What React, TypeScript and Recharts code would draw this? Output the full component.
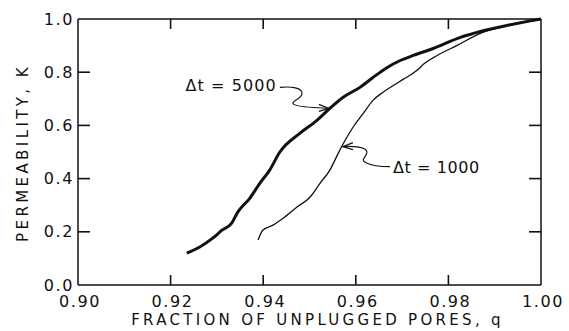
import React from "react";
import { LineChart, Line, XAxis, YAxis, ReferenceDot, Label } from "recharts";

// axis ticks
const qTicks = [0.9, 0.92, 0.94, 0.96, 0.98, 1.0];
const kTicks = [0, 0.2, 0.4, 0.6, 0.8, 1.0];
const innerQTicks = [0.92, 0.94, 0.96, 0.98];
const innerKTicks = [0.2, 0.4, 0.6, 0.8];

// Δt = 5000 (thick curve)
const q5000 = [
  0.9235, 0.9263, 0.9291, 0.9311, 0.9332, 0.9345, 0.9371, 0.9393, 0.9414,
  0.9436, 0.9479, 0.9516, 0.9544, 0.9572, 0.9609, 0.9637, 0.9668, 0.9696,
  0.9724, 0.9767, 0.9826, 0.9869, 0.9927, 1.0,
];
const k5000 = [
  0.12, 0.143, 0.176, 0.206, 0.233, 0.274, 0.326, 0.383, 0.432, 0.5, 0.57,
  0.619, 0.664, 0.705, 0.743, 0.78, 0.818, 0.844, 0.863, 0.889, 0.931, 0.953,
  0.976, 1.0,
];

// Δt = 1000 (thin curve)
const q1000 = [
  0.9389, 0.9399, 0.9421, 0.9443, 0.9473, 0.9501, 0.9523, 0.9544, 0.9562,
  0.9577, 0.9594, 0.9616, 0.9637, 0.9659, 0.9681, 0.9702, 0.9733, 0.9746,
  0.9776, 0.9819, 0.9869, 0.9927, 1.0,
];
const k1000 = [
  0.169, 0.206, 0.225, 0.251, 0.293, 0.33, 0.383, 0.432, 0.495, 0.544, 0.593,
  0.645, 0.694, 0.725, 0.75, 0.773, 0.808, 0.83, 0.863, 0.901, 0.946, 0.976,
  1.0,
];

// where the annotation arrows touch the curves
const arrow5000 = { q: 0.9544, k: 0.664 };
const arrow1000 = { q: 0.957, k: 0.52 };

const series5000 = q5000.map((q, i) => ({ q, k: k5000[i] }));
const series1000 = q1000.map((q, i) => ({ q, k: k1000[i] }));

const W = 569;
const H = 331;
const margin = { top: 18, right: 27, bottom: 0, left: 0 };
const Y_AXIS_W = 78;
const X_AXIS_H = 46;
const PLOT_LEFT = margin.left + Y_AXIS_W;
const PLOT_RIGHT = W - margin.right - 1;
const PLOT_TOP = margin.top + 1;
const PLOT_BOTTOM = H - margin.bottom - X_AXIS_H;

const FONT = "'DejaVu Sans', sans-serif";
const INK = "#111";
const textStyle = { fontFamily: FONT, fontSize: 16, letterSpacing: 1.6 };

const BottomTick = (props: any) => {
  const { x, payload } = props;
  return (
    <text x={x + 2} y={PLOT_BOTTOM + 22} textAnchor="middle" fill={INK} style={textStyle}>
      {payload.value.toFixed(2)}
    </text>
  );
};

const LeftTick = (props: any) => {
  const { y, payload } = props;
  return (
    <text
      x={PLOT_LEFT - 4}
      y={y}
      textAnchor="end"
      dominantBaseline="central"
      fill={INK}
      style={textStyle}
    >
      {payload.value.toFixed(1)}
    </text>
  );
};

// inward tick marks, placed at data positions on the frame via ReferenceDot
const tickMark = (dx: number, dy: number) => (props: any) => {
  const { cx, cy } = props;
  return (
    <path d={`M ${cx} ${cy} L ${cx + dx} ${cy + dy}`} fill="none" stroke={INK} strokeWidth={1.6} />
  );
};
const UpTick = tickMark(0, -10);
const DownTick = tickMark(0, 10);
const RightwardTick = tickMark(12, 0);
const LeftwardTick = tickMark(-12, 0);

const Note5000 = (props: any) => {
  const { cx, cy } = props;
  return (
    <g transform={`translate(${cx},${cy})`}>
      <path
        d="M -50 -21 C -40 -22, -26 -21, -28 -14 C -29 -9, -40 -7, -36 -4 C -32 -1, -14 -1, -1 0"
        fill="none"
        stroke={INK}
        strokeWidth={1.2}
      />
      <path d="M -11 -4 L -1 0 L -11 3" fill="none" stroke={INK} strokeWidth={1.2} />
      <text
        x={-53}
        y={-23}
        textAnchor="end"
        dominantBaseline="central"
        fill={INK}
        style={{ fontFamily: FONT, fontSize: 16, letterSpacing: 1.1 }}
      >
        Δt = 5000
      </text>
    </g>
  );
};

const Note1000 = (props: any) => {
  const { cx, cy } = props;
  return (
    <g transform={`translate(${cx},${cy})`}>
      <path
        d="M 1 0 C 10 -1, 26 0, 25 6 C 24 11, 18 13, 24 16 C 30 19, 40 20, 48 20"
        fill="none"
        stroke={INK}
        strokeWidth={1.2}
      />
      <path d="M 11 -4 L 1 0 L 11 3" fill="none" stroke={INK} strokeWidth={1.2} />
      <text
        x={51}
        y={21}
        textAnchor="start"
        dominantBaseline="central"
        fill={INK}
        style={{ fontFamily: FONT, fontSize: 16, letterSpacing: 0.6 }}
      >
        Δt = 1000
      </text>
    </g>
  );
};

const XTitle = () => (
  <text
    x={(PLOT_LEFT + PLOT_RIGHT) / 2 + 8}
    y={325}
    textAnchor="middle"
    fill={INK}
    style={{ fontFamily: FONT, fontSize: 15, letterSpacing: 3.3 }}
  >
    FRACTION OF UNPLUGGED PORES, q
  </text>
);

const YTitle = () => {
  const x = 28;
  const y = (PLOT_TOP + PLOT_BOTTOM) / 2 + 1;
  return (
    <text
      x={x}
      y={y}
      transform={`rotate(-90, ${x}, ${y})`}
      textAnchor="middle"
      fill={INK}
      style={{ fontFamily: FONT, fontSize: 15, letterSpacing: 3.4 }}
    >
      PERMEABILITY, K
    </text>
  );
};

const frame = { stroke: INK, strokeWidth: 1.5 };

export default function App() {
  return (
    <div style={{ position: "absolute", left: 0, top: 0, background: "#fff" }}>
      <LineChart width={W} height={H} margin={margin}>
        <XAxis
          type="number"
          dataKey="q"
          domain={[0.9, 1.0]}
          ticks={qTicks}
          height={X_AXIS_H}
          tickLine={false}
          tick={<BottomTick />}
          axisLine={frame}
        >
          <Label content={<XTitle />} />
        </XAxis>
        <XAxis
          xAxisId="top"
          orientation="top"
          type="number"
          dataKey="q"
          domain={[0.9, 1.0]}
          height={1}
          tickLine={false}
          tick={false}
          axisLine={frame}
        />
        <YAxis
          type="number"
          domain={[0, 1]}
          ticks={kTicks}
          width={Y_AXIS_W}
          tickLine={false}
          tick={<LeftTick />}
          axisLine={frame}
        >
          <Label content={<YTitle />} />
        </YAxis>
        <YAxis
          yAxisId="right"
          orientation="right"
          type="number"
          domain={[0, 1]}
          width={1}
          tickLine={false}
          tick={false}
          axisLine={frame}
        />
        <Line
          data={series1000}
          dataKey="k"
          type="monotone"
          stroke={INK}
          strokeWidth={1.3}
          dot={false}
          isAnimationActive={false}
        />
        <Line
          data={series5000}
          dataKey="k"
          type="monotone"
          stroke={INK}
          strokeWidth={3}
          dot={false}
          isAnimationActive={false}
        />
        {innerQTicks.map((q) => (
          <ReferenceDot key={`b${q}`} x={q} y={0} ifOverflow="visible" shape={UpTick} />
        ))}
        {innerQTicks.map((q) => (
          <ReferenceDot key={`t${q}`} x={q} y={1} ifOverflow="visible" shape={DownTick} />
        ))}
        {innerKTicks.map((k) => (
          <ReferenceDot key={`l${k}`} x={0.9} y={k} ifOverflow="visible" shape={RightwardTick} />
        ))}
        {innerKTicks.map((k) => (
          <ReferenceDot key={`r${k}`} x={1.0} y={k} ifOverflow="visible" shape={LeftwardTick} />
        ))}
        <ReferenceDot x={arrow5000.q} y={arrow5000.k} ifOverflow="visible" shape={<Note5000 />} />
        <ReferenceDot x={arrow1000.q} y={arrow1000.k} ifOverflow="visible" shape={<Note1000 />} />
      </LineChart>
    </div>
  );
}
